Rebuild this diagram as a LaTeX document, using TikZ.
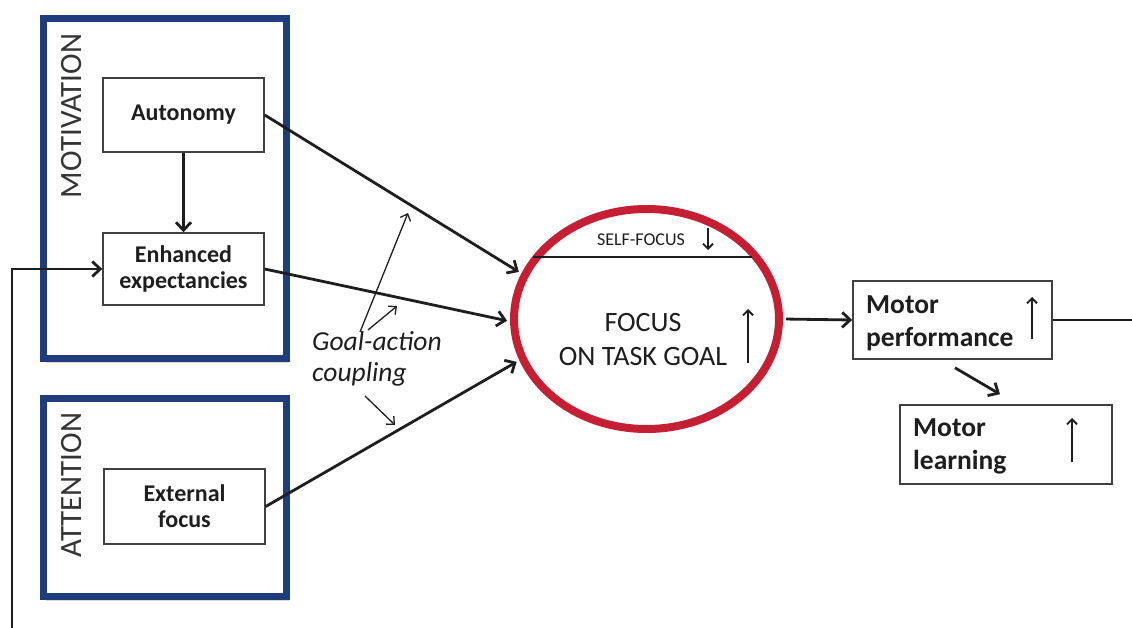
\documentclass[tikz,border=0pt]{standalone}
\usepackage{fontspec}
\setmainfont{Carlito}
\usetikzlibrary{arrows.meta,calc,shapes.geometric,shadows}

\definecolor{frameblue}{HTML}{1F3D7A}
\definecolor{ringred}{HTML}{C41F32}
\definecolor{ink}{HTML}{1E1E1E}

\tikzset{
  groupbox/.style={draw=frameblue, line width=7pt, fill=white,
    minimum width=243pt, minimum height=#1, inner sep=0pt,
    drop shadow={shadow xshift=2pt, shadow yshift=-4pt, opacity=0.25, fill=black!60}},
  factor/.style={draw=ink!85, line width=1.4pt, fill=white, minimum width=161pt,
    minimum height=#1, inner sep=0pt, align=center, text=ink,
    font=\fontsize{24}{26}\selectfont\bfseries},
  outcome/.style={draw=ink!85, line width=1.6pt, fill=white, inner sep=0pt},
  outtext/.style={inner sep=0pt, text=ink, font=\fontsize{27.5}{33}\selectfont\bfseries},
  grouplabel/.style={rotate=90, text=ink!90, font=\fontsize{31}{34}\selectfont},
  flow/.style={line width=2.8pt, draw=ink, -{Straight Barb[length=8pt,width=15pt,line width=2.8pt]}},
  thinflow/.style={line width=1.3pt, draw=ink, -{Straight Barb[length=6pt,width=11pt,line width=1.3pt]}},
  updown/.style={line width=1.8pt, draw=ink, -{Straight Barb[length=5pt,width=10pt,line width=1.8pt]}},
}

\begin{document}
\begin{tikzpicture}[x=1pt,y=-1pt]
\useasboundingbox (0,0) rectangle (1132,628);

% two framed groups on the left
\node[groupbox=340pt] (motiv) at (165,188.5) {};
\node[groupbox=198pt] (atten) at (165,497.5) {};
\node[grouplabel] (motivlbl) at (72,116) {MOTIVATION};
\node[grouplabel] (attenlbl) at (72,485) {ATTENTION};

% factor boxes
\node[factor=74pt] (aut) at (183.5,115) {Autonomy};
\node[factor=72pt] (enh) at (183.5,269) {Enhanced\\expectancies};
\node[factor=75pt] (ext) at (184.5,506.5) {External\\focus};

% central focus ring
\node[ellipse, draw=ringred, line width=8pt, minimum width=265pt,
      minimum height=220pt, inner sep=0pt] (ell) at (646.5,319) {};
\coordinate (sfl) at (533,257);
\coordinate (sfr) at (752,257);
\draw[line width=1.2pt, ink] (sfl) -- (sfr);
\node[text=ink, font=\fontsize{18}{20}\selectfont] (selff) at (641,240) {SELF-FOCUS};
\coordinate (sfa) at (708,228);
\coordinate (sfb) at (708,250);
\draw[updown] (sfa) -- (sfb);
\node[text=ink, align=center, font=\fontsize{28}{34}\selectfont] (task) at (643,340)
  {FOCUS\\ON TASK GOAL};
\coordinate (tua) at (748,363);
\coordinate (tub) at (748,309);
\draw[updown] (tua) -- (tub);

% outcome boxes
\node[outcome, minimum width=199pt, minimum height=78pt] (mp) at (952.5,320) {};
\node[outtext, anchor=west, align=left] (mptxt) at (866,323) {Motor\\performance};
\coordinate (mpa) at (1032,339);
\coordinate (mpb) at (1032,297);
\draw[updown] (mpa) -- (mpb);

\node[outcome, minimum width=212pt, minimum height=79pt] (ml) at (1006,444.5) {};
\node[outtext, anchor=west, align=left] (mltxt) at (913,446) {Motor\\learning};
\coordinate (mla) at (1072,462);
\coordinate (mlb) at (1072,418);
\draw[updown] (mla) -- (mlb);

% main flows into the ring
\draw[flow, shorten >=3pt] (aut.east) -- (ell.160);
\draw[flow, shorten >=3pt] (enh.east) -- (ell.181);
\draw[flow, shorten >=3pt] (ext.east) -- (ell.198);
\draw[flow, shorten <=3pt] (ell.east) -- (mp.west);
\draw[flow] ($(mp.south)+(2.5,8)$) -- ($(ml.north)+(-6,-10)$);
\draw[flow] (aut.south) -- (enh.north);

% continuation to the right and feedback loop
\coordinate (outr) at (1132,320);
\draw[line width=2.8pt, ink] (mp.east) -- (outr);
\coordinate (fb) at (12,628);
\draw[flow] (fb) |- (enh.west);

% goal-action coupling
\node[anchor=north west, align=left, text=ink, inner sep=0pt,
      font=\fontsize{27.5}{31}\selectfont\itshape] (gac) at (312,331) {Goal-action\\coupling};
\coordinate (g1a) at (360,332);
\coordinate (g1b) at (408,213);
\coordinate (g2a) at (368,330);
\coordinate (g2b) at (397,306);
\coordinate (g3a) at (365,396);
\coordinate (g3b) at (395,425);
\draw[thinflow] (g1a) -- (g1b);
\draw[thinflow] (g2a) -- (g2b);
\draw[thinflow] (g3a) -- (g3b);
\end{tikzpicture}
\end{document}
